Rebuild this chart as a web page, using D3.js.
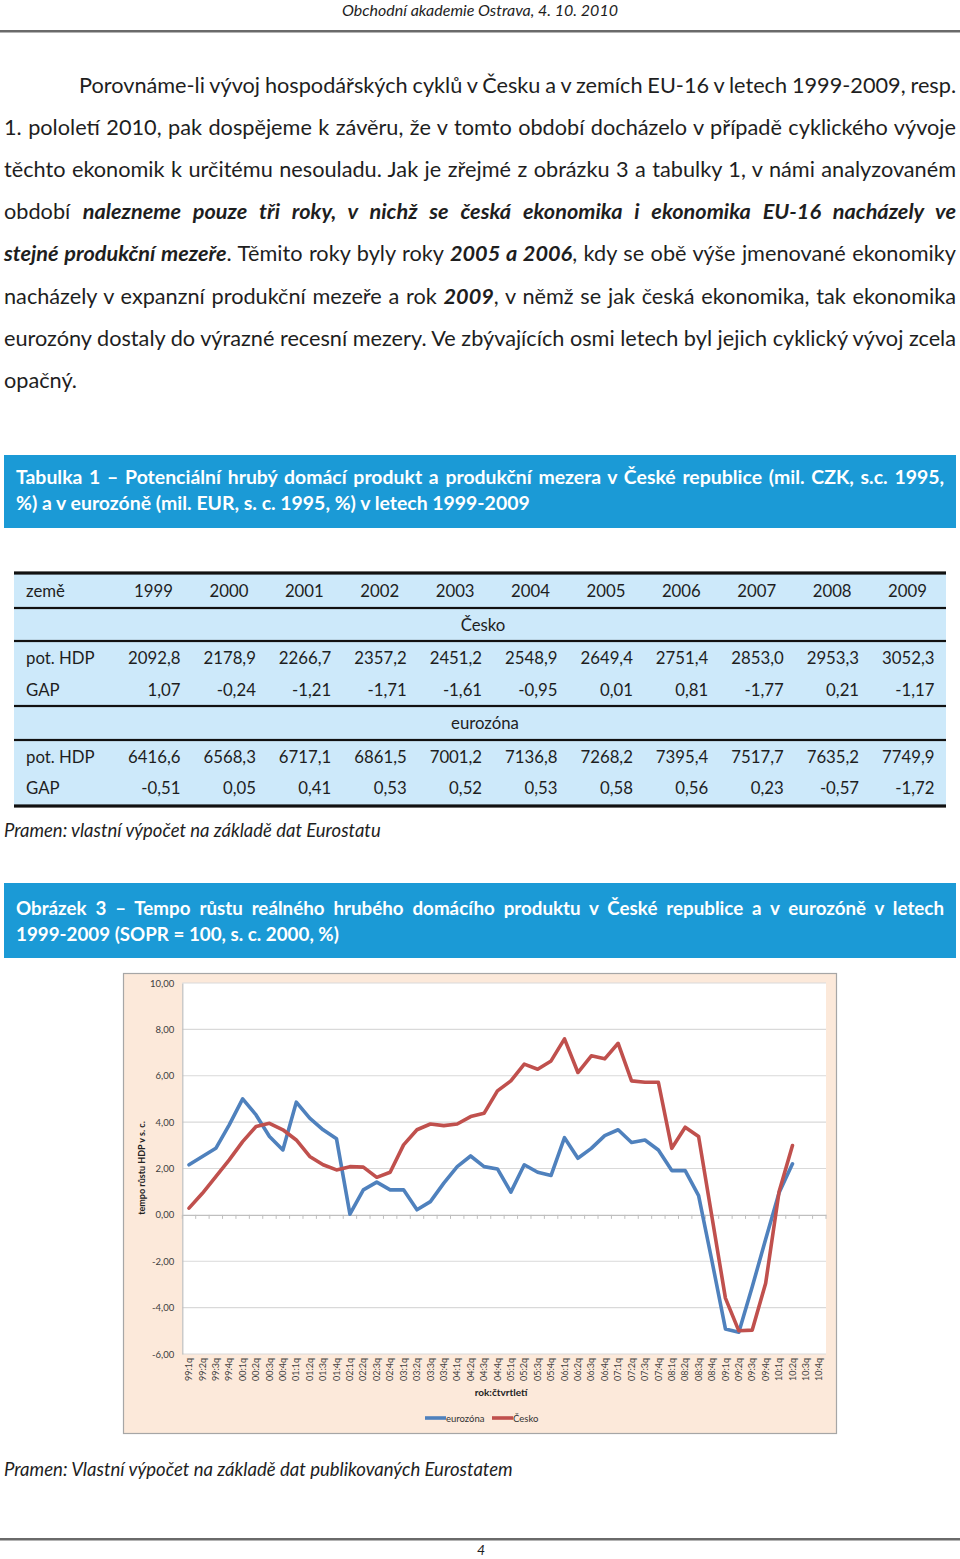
<!DOCTYPE html>
<html><head><meta charset="utf-8">
<script src="https://cdn.jsdelivr.net/npm/d3@7"></script>
<style>
body{margin:0;background:#fff}
svg{display:block}
text{font-family:Lato,"Noto Sans",sans-serif}
</style>
</head><body>
<svg id="page" width="960" height="1559"></svg>
<script>
// ---------------- DATA ----------------
const headerText = "Obchodní akademie Ostrava, 4. 10. 2010";
const paragraph = [
  [["Porovnáme-li vývoj hospodářských cyklů v Česku a v zemích EU-16 v letech 1999-2009, resp.",0]],
  [["1. pololetí 2010, pak dospějeme k závěru, že v tomto období docházelo v případě cyklického vývoje",0]],
  [["těchto ekonomik k určitému nesouladu. Jak je zřejmé z obrázku 3 a tabulky 1, v námi analyzovaném",0]],
  [["období ",0],["nalezneme pouze tři roky, v nichž se česká ekonomika i ekonomika EU-16 nacházely ve",1]],
  [["stejné produkční mezeře",1],[". Těmito roky byly roky ",0],["2005 a 2006",1],[", kdy se obě výše jmenované ekonomiky",0]],
  [["nacházely v expanzní produkční mezeře a rok ",0],["2009",1],[", v němž se jak česká ekonomika, tak ekonomika",0]],
  [["eurozóny dostaly do výrazné recesní mezery. Ve zbývajících osmi letech byl jejich cyklický vývoj zcela",0]],
  [["opačný.",0]]
];
const tableCaption = ["Tabulka 1 – Potenciální hrubý domácí produkt a produkční mezera v České republice (mil. CZK, s.c. 1995,",
                      "%) a v eurozóně (mil. EUR, s. c. 1995, %) v letech 1999-2009"];
const years = ["1999","2000","2001","2002","2003","2004","2005","2006","2007","2008","2009"];
const czPot = ["2092,8","2178,9","2266,7","2357,2","2451,2","2548,9","2649,4","2751,4","2853,0","2953,3","3052,3"];
const czGap = ["1,07","-0,24","-1,21","-1,71","-1,61","-0,95","0,01","0,81","-1,77","0,21","-1,17"];
const ezPot = ["6416,6","6568,3","6717,1","6861,5","7001,2","7136,8","7268,2","7395,4","7517,7","7635,2","7749,9"];
const ezGap = ["-0,51","0,05","0,41","0,53","0,52","0,53","0,58","0,56","0,23","-0,57","-1,72"];
const tableSource = "Pramen: vlastní výpočet na základě dat Eurostatu";
const figureCaption = ["Obrázek 3 – Tempo růstu reálného hrubého domácího produktu v České republice a v eurozóně v letech",
                       "1999-2009 (SOPR = 100, s. c. 2000, %)"];
const quarters = ["99:1q","99:2q","99:3q","99:4q","00:1q","00:2q","00:3q","00:4q","01:1q","01:2q","01:3q","01:4q",
  "02:1q","02:2q","02:3q","02:4q","03:1q","03:2q","03:3q","03:4q","04:1q","04:2q","04:3q","04:4q",
  "05:1q","05:2q","05:3q","05:4q","06:1q","06:2q","06:3q","06:4q","07:1q","07:2q","07:3q","07:4q",
  "08:1q","08:2q","08:3q","08:4q","09:1q","09:2q","09:3q","09:4q","10:1q","10:2q","10:3q","10:4q"];
const eurozona = [2.16,2.52,2.87,3.88,5.00,4.31,3.38,2.80,4.86,4.17,3.67,3.28,0.03,1.08,1.41,1.08,1.08,0.22,0.57,1.37,
  2.08,2.54,2.08,1.98,0.98,2.16,1.84,1.70,3.33,2.44,2.87,3.42,3.67,3.12,3.23,2.80,1.91,1.91,0.83,-2.00,-4.92,-5.06,-3.10,-1.05,0.95,2.20];
const cesko = [0.29,0.93,1.65,2.37,3.16,3.81,3.95,3.67,3.23,2.52,2.16,1.94,2.08,2.06,1.62,1.84,3.02,3.67,3.92,3.85,
  3.92,4.24,4.38,5.35,5.78,6.50,6.28,6.64,7.59,6.14,6.86,6.73,7.40,5.78,5.72,5.72,2.87,3.78,3.38,-0.10,-3.59,-5.00,-4.97,-2.95,1.00,2.99];
const yTicks = [-6,-4,-2,0,2,4,6,8,10];
const yTitle = "tempo růstu HDP v s. c.";
const xTitle = "rok:čtvrtletí";
const seriesNames = ["eurozóna","Česko"];
const figureSource = "Pramen: Vlastní výpočet na základě dat publikovaných Eurostatem";
const pageNumber = "4";

// ---------------- HELPERS ----------------
const svg = d3.select("#page");
const TXT = "#1e1e1e";
function fit(sel, target){
  const base = parseFloat(sel.attr("font-size"));
  const w = sel.node().getComputedTextLength();
  const fs = base*target/w;
  sel.attr("font-size", fs);
  return fs;
}
function justify(sel, target){
  const n = (sel.text().match(/ /g)||[]).length;
  const w = sel.node().getComputedTextLength();
  if(n>0) sel.attr("word-spacing", (target-w)/n);
}

// ---------------- HEADER ----------------
const hdr = svg.append("text").attr("x",480).attr("y",16).attr("text-anchor","middle")
  .attr("font-size",15).attr("font-style","italic").attr("fill",TXT).text(headerText);
fit(hdr, 276);
svg.append("rect").attr("x",0).attr("y",30).attr("width",960).attr("height",2.5).attr("fill","#6a6a6a");

// ---------------- PARAGRAPH ----------------
const probe = svg.append("text").attr("font-size",20).text("opačný.");
const bodyFs = fit(probe, 73); probe.remove();
paragraph.forEach((segs,i)=>{
  const x0 = i===0 ? 79 : 4;
  const t = svg.append("text").attr("x",x0).attr("y",93+i*42.1).attr("font-size",bodyFs).attr("fill",TXT);
  segs.forEach(s=>{
    const ts = t.append("tspan").text(s[0]);
    if(s[1]) ts.attr("font-weight","bold").attr("font-style","italic");
  });
  if(i<paragraph.length-1) justify(t, 956-x0);
});

// ---------------- TABLE CAPTION ----------------
svg.append("rect").attr("x",4).attr("y",455).attr("width",952).attr("height",73).attr("fill","#1b9ad6");
const tc2 = svg.append("text").attr("x",16).attr("y",510).attr("font-size",18).attr("font-weight","bold")
  .attr("fill","#fff").text(tableCaption[1]);
const capFs = fit(tc2, 514);
const tc1 = svg.append("text").attr("x",16).attr("y",484).attr("font-size",capFs).attr("font-weight","bold")
  .attr("fill","#fff").text(tableCaption[0]);
justify(tc1, 928);

// ---------------- TABLE ----------------
const tL = 14, tR = 946;
svg.append("rect").attr("x",tL).attr("y",573).attr("width",tR-tL).attr("height",233).attr("fill","#cde9fa");
[[573,3.2],[608,2.2],[641,2.2],[706,2.2],[740,2.2],[806,3.2]].forEach(([y,w])=>{
  svg.append("rect").attr("x",tL).attr("y",y-w/2).attr("width",tR-tL).attr("height",w).attr("fill","#111");
});
const probeT = svg.append("text").attr("font-size",17).text("2092,8");
const tabFs = fit(probeT, 52.5); probeT.remove();
const colRight = i => 180.5 + 75.4*i;
function row(y, label, vals, shift){
  if(label) svg.append("text").attr("x",26).attr("y",y).attr("font-size",tabFs).attr("fill",TXT).text(label);
  svg.selectAll(null).data(vals).enter().append("text")
    .attr("x",(d,i)=>colRight(i)-shift).attr("y",y).attr("text-anchor","end")
    .attr("font-size",tabFs).attr("fill",TXT).text(d=>d);
}
row(597,"země",years,7.5);
svg.append("text").attr("x",483).attr("y",631).attr("text-anchor","middle").attr("font-size",tabFs).attr("fill",TXT).text("Česko");
row(664,"pot. HDP",czPot,0);
row(696,"GAP",czGap,0);
svg.append("text").attr("x",485).attr("y",729).attr("text-anchor","middle").attr("font-size",tabFs).attr("fill",TXT).text("eurozóna");
row(763,"pot. HDP",ezPot,0);
row(794,"GAP",ezGap,0);

const ts1 = svg.append("text").attr("x",4).attr("y",837).attr("font-size",17).attr("font-style","italic")
  .attr("fill",TXT).text(tableSource);
fit(ts1, 377);

// ---------------- FIGURE CAPTION ----------------
svg.append("rect").attr("x",4).attr("y",883).attr("width",952).attr("height",75).attr("fill","#1b9ad6");
const fc2 = svg.append("text").attr("x",16).attr("y",941).attr("font-size",18).attr("font-weight","bold")
  .attr("fill","#fff").text(figureCaption[1]);
const fcFs = fit(fc2, 323);
const fc1 = svg.append("text").attr("x",16).attr("y",915).attr("font-size",fcFs).attr("font-weight","bold")
  .attr("fill","#fff").text(figureCaption[0]);
justify(fc1, 928);

// ---------------- CHART ----------------
svg.append("rect").attr("x",123.5).attr("y",973.5).attr("width",713).attr("height",460)
  .attr("fill","#fce9da").attr("stroke","#a6a6a6").attr("stroke-width",1.2);
const pL = 182.3, pR = 826, pT = 983, pB = 1354;
svg.append("rect").attr("x",pL).attr("y",pT).attr("width",pR-pL).attr("height",pB-pT).attr("fill","#fff");

const x = d3.scaleBand().domain(quarters).range([pL,pR]).padding(0);
const y = d3.scaleLinear().domain([-6,10]).range([pB,pT]);
const loc = d3.formatLocale({decimal:",",thousands:" ",grouping:[3],currency:["",""],minus:"-"});
const fmt = loc.format(".2f");

// gridlines
svg.append("g").selectAll("line").data(yTicks.filter(d=>d!==0)).enter().append("line")
  .attr("x1",pL).attr("x2",pR).attr("y1",d=>y(d)).attr("y2",d=>y(d))
  .attr("stroke","#d9d9d9").attr("stroke-width",1.2);

// y axis
const ya = svg.append("g").attr("transform",`translate(${pL},0)`)
  .call(d3.axisLeft(y).tickValues(yTicks).tickSize(0).tickPadding(8).tickFormat(fmt));
ya.select(".domain").attr("stroke","#bfbfbf").attr("stroke-width",1.2);
ya.selectAll("text").attr("font-family","Lato,sans-serif").attr("font-size",9.5).attr("fill","#404040");

// zero line with ticks
const x0g = svg.append("g").attr("transform",`translate(0,${y(0)})`)
  .call(d3.axisBottom(x).tickSize(0).tickFormat(""));
x0g.select(".domain").attr("stroke","#bfbfbf").attr("stroke-width",1.2);
svg.append("g").selectAll("line").data(d3.range(quarters.length+1)).enter().append("line")
  .attr("x1",i=>pL+i*x.step()).attr("x2",i=>pL+i*x.step())
  .attr("y1",y(0)).attr("y2",y(0)+4).attr("stroke","#bfbfbf").attr("stroke-width",1);

// x labels at bottom
const xa = svg.append("g").attr("transform",`translate(0,${pB})`)
  .call(d3.axisBottom(x).tickSize(0));
xa.select(".domain").remove();
xa.selectAll("text").attr("transform","rotate(-90)").attr("text-anchor","end")
  .attr("x",-4).attr("y",0).attr("dy","0.35em")
  .attr("font-family","Lato,sans-serif").attr("font-size",9).attr("fill","#404040");

// y title
svg.append("text").attr("transform","translate(145,1168) rotate(-90)").attr("text-anchor","middle")
  .attr("font-size",9).attr("font-weight","bold").attr("fill","#222").text(yTitle);
// x title
svg.append("text").attr("x",501).attr("y",1396).attr("text-anchor","middle")
  .attr("font-size",10).attr("font-weight","bold").attr("fill","#222").text(xTitle);

// lines
const colors = ["#4f81bd","#c0504d"];
const line = d3.line().x((d,i)=>x(quarters[i])+x.bandwidth()/2).y(d=>y(d));
[eurozona,cesko].forEach((s,k)=>{
  svg.append("path").datum(s).attr("d",line).attr("fill","none")
    .attr("stroke",colors[k]).attr("stroke-width",3.6).attr("stroke-linejoin","round").attr("stroke-linecap","round");
});

// legend
const legX = [425,492];
seriesNames.forEach((n,k)=>{
  svg.append("line").attr("x1",legX[k]).attr("x2",legX[k]+21).attr("y1",1418).attr("y2",1418)
    .attr("stroke",colors[k]).attr("stroke-width",3.6);
  svg.append("text").attr("x",legX[k]+21).attr("y",1421.5).attr("font-size",9.5).attr("fill","#333").text(n);
});

// ---------------- FIGURE SOURCE & FOOTER ----------------
const fs2 = svg.append("text").attr("x",4).attr("y",1476).attr("font-size",17).attr("font-style","italic")
  .attr("fill",TXT).text(figureSource);
fit(fs2, 509);
svg.append("rect").attr("x",0).attr("y",1538).attr("width",960).attr("height",2.5).attr("fill","#6a6a6a");
svg.append("text").attr("x",481).attr("y",1555).attr("text-anchor","middle").attr("font-size",14)
  .attr("font-style","italic").attr("fill",TXT).text(pageNumber);
</script>
</body></html>
